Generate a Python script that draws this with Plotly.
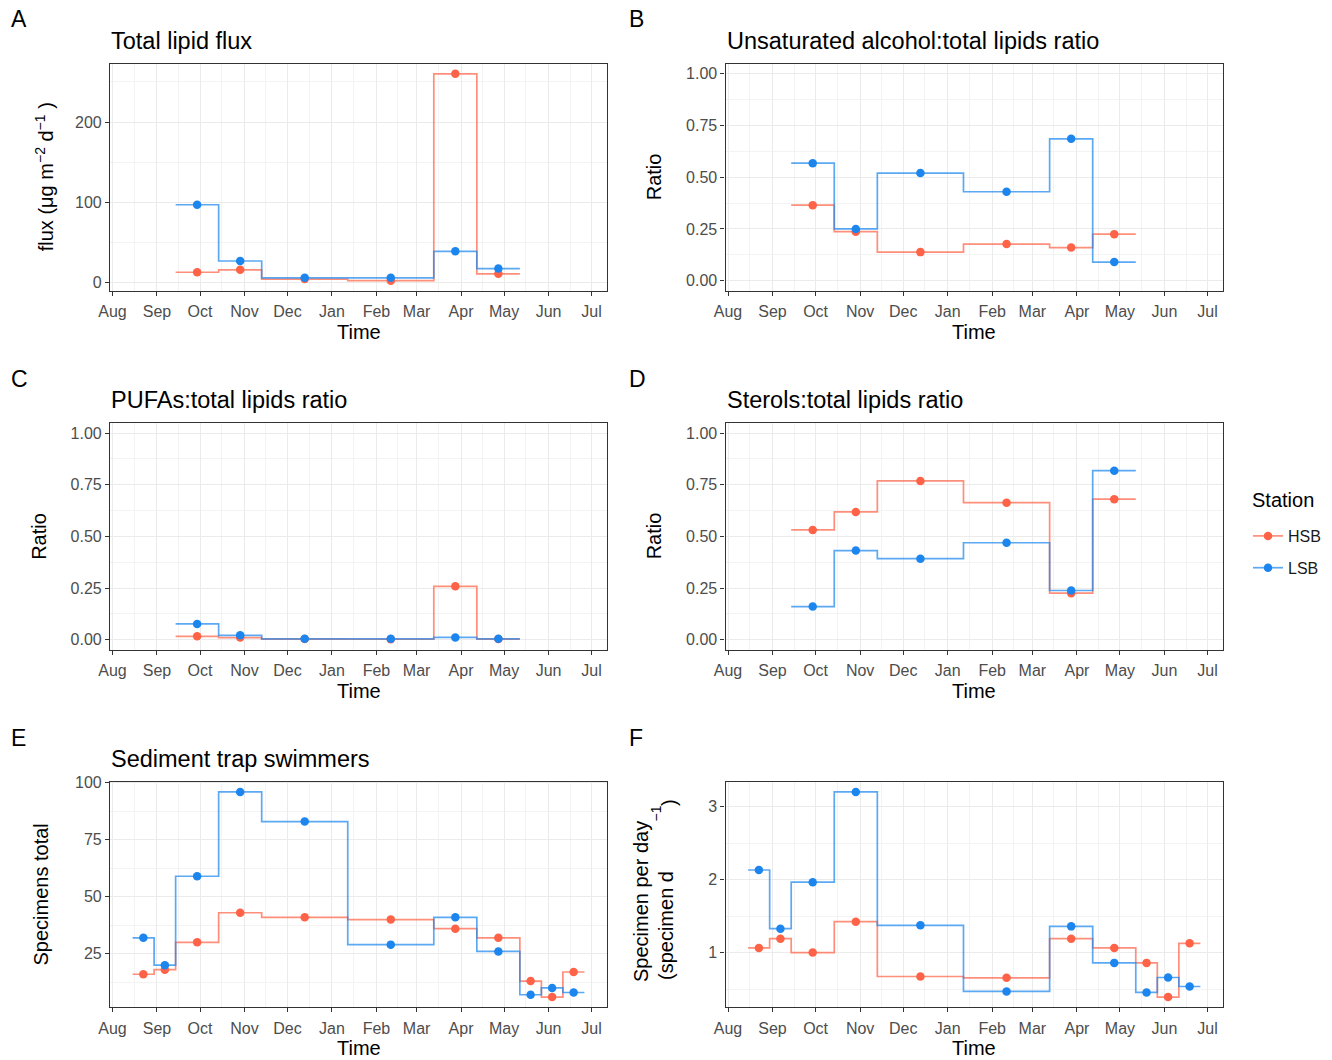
import pandas as pd
import plotly.graph_objects as go

# ---------------- data ----------------
stations = ["HSB", "LSB"]
station_colors = {"HSB": "#FF6347", "LSB": "#1C86EE"}
station_line_colors = {"HSB": "rgba(255,99,71,0.72)", "LSB": "rgba(28,134,238,0.72)"}

# sampling intervals of the lipid traps (panels A-D)
lipid_start = ["2018-09-14", "2018-10-14", "2018-11-13", "2019-01-12", "2019-03-13", "2019-04-12"]
lipid_end = ["2018-10-14", "2018-11-13", "2019-01-12", "2019-03-13", "2019-04-12", "2019-05-12"]

# sampling intervals of the swimmer counts (panels E-F)
swim_start = ["2018-08-15", "2018-08-30", "2018-09-14", "2018-10-14", "2018-11-13", "2019-01-12",
              "2019-03-13", "2019-04-12", "2019-05-12", "2019-05-27", "2019-06-11"]
swim_end = ["2018-08-30", "2018-09-14", "2018-10-14", "2018-11-13", "2019-01-12", "2019-03-13",
            "2019-04-12", "2019-05-12", "2019-05-27", "2019-06-11", "2019-06-26"]

flux_HSB = [13, 16, 4.5, 2.5, 260, 11]
flux_LSB = [97, 27, 6, 6, 39, 17.5]

unsat_HSB = [0.365, 0.237, 0.138, 0.177, 0.160, 0.225]
unsat_LSB = [0.568, 0.250, 0.520, 0.430, 0.686, 0.090]

pufa_HSB = [0.016, 0.010, 0.003, 0.002, 0.258, 0.003]
pufa_LSB = [0.076, 0.021, 0.004, 0.004, 0.011, 0.004]

sterol_HSB = [0.531, 0.618, 0.768, 0.663, 0.225, 0.680]
sterol_LSB = [0.160, 0.431, 0.392, 0.469, 0.238, 0.818]

swim_total_HSB = [16, 18, 30, 43, 41, 40, 36, 32, 13, 6, 17]
swim_total_LSB = [32, 20, 59, 96, 83, 29, 41, 26, 7, 10, 8]

swim_day_HSB = [1.064, 1.191, 1.000, 1.424, 0.672, 0.654, 1.191, 1.064, 0.859, 0.390, 1.128]
swim_day_LSB = [2.134, 1.328, 1.966, 3.205, 1.374, 0.467, 1.360, 0.859, 0.453, 0.658, 0.535]

panel_letters = ["A", "B", "C", "D", "E", "F"]
panel_titles = ["Total lipid flux", "Unsaturated alcohol:total lipids ratio",
                "PUFAs:total lipids ratio", "Sterols:total lipids ratio",
                "Sediment trap swimmers", ""]

# ---------------- layout helpers ----------------
W, H = 1332, 1060
FONT = "Liberation Sans, Arial, sans-serif"

def px_x(v):
    return v / W

def px_y(v):
    return 1 - v / H

col_px = [(110, 607), (725.5, 1223)]
row_px = [(63.5, 291), (422.7, 650), (781.7, 1007.3)]

panels = [
    dict(start=lipid_start, end=lipid_end, HSB=flux_HSB, LSB=flux_LSB),
    dict(start=lipid_start, end=lipid_end, HSB=unsat_HSB, LSB=unsat_LSB),
    dict(start=lipid_start, end=lipid_end, HSB=pufa_HSB, LSB=pufa_LSB),
    dict(start=lipid_start, end=lipid_end, HSB=sterol_HSB, LSB=sterol_LSB),
    dict(start=swim_start, end=swim_end, HSB=swim_total_HSB, LSB=swim_total_LSB),
    dict(start=swim_start, end=swim_end, HSB=swim_day_HSB, LSB=swim_day_LSB),
]

# shared x limits: data range of all sampling dates, expanded by 5 %
all_dates = pd.to_datetime(swim_start + swim_end + lipid_start + lipid_end)
dmin, dmax = all_dates.min(), all_dates.max()
pad = (dmax - dmin) * 0.05
x_range = [(dmin - pad).strftime("%Y-%m-%d %H:%M"), (dmax + pad).strftime("%Y-%m-%d %H:%M")]

def expand(lo, hi, f=0.05):
    r = hi - lo
    return [lo - f * r, hi + f * r]

fig = go.Figure()

for i, p in enumerate(panels):
    n = i + 1
    xa = "x" if n == 1 else f"x{n}"
    ya = "y" if n == 1 else f"y{n}"
    s = pd.to_datetime(p["start"])
    e = pd.to_datetime(p["end"])
    mid = s + (e - s) / 2
    for st in stations:
        vals = p[st]
        fig.add_trace(go.Scatter(
            x=list(s) + [e[-1]], y=list(vals) + [vals[-1]],
            mode="lines", line=dict(shape="hv", color=station_line_colors[st], width=1.7),
            xaxis=xa, yaxis=ya, showlegend=False, hoverinfo="skip", legendgroup=st))
        fig.add_trace(go.Scatter(
            x=list(mid), y=vals, mode="markers",
            marker=dict(color=station_colors[st], size=8.5),
            xaxis=xa, yaxis=ya, showlegend=False, legendgroup=st, name=st))

# legend-only entries
for st in stations:
    fig.add_trace(go.Scatter(
        x=[None], y=[None], mode="lines+markers", name=st, legendgroup=st,
        line=dict(color=station_line_colors[st], width=1.7),
        marker=dict(color=station_colors[st], size=8.5), showlegend=True))

layout = dict(
    width=W, height=H, margin=dict(l=0, r=0, t=0, b=0, autoexpand=False),
    paper_bgcolor="white", plot_bgcolor="white",
    font=dict(family=FONT, color="#000000"),
    showlegend=True,
    legend=dict(x=px_x(1248), y=px_y(519), xanchor="left", yanchor="top",
                font=dict(size=16, color="#1A1A1A"), itemwidth=30,
                tracegroupgap=8, bgcolor="rgba(0,0,0,0)"),
)

y_ranges = [
    expand(min(flux_HSB + flux_LSB), max(flux_HSB + flux_LSB)),
    expand(0, 1), expand(0, 1), expand(0, 1),
    expand(min(swim_total_HSB + swim_total_LSB), max(swim_total_HSB + swim_total_LSB)),
    expand(min(swim_day_HSB + swim_day_LSB), max(swim_day_HSB + swim_day_LSB)),
]
y_dtick = [100, 0.25, 0.25, 0.25, 25, 1]
y_fmt = ["d", ".2f", ".2f", ".2f", "d", "d"]

axis_common = dict(showline=True, mirror=True, linecolor="#333333", linewidth=1.2,
                   ticks="outside", ticklen=4, tickwidth=1, tickcolor="#333333",
                   gridcolor="#EBEBEB", gridwidth=1.1, zeroline=False,
                   tickfont=dict(size=16, color="#4D4D4D", family=FONT))

annotations = []
for i in range(6):
    n = i + 1
    c = i % 2
    r = i // 2
    x0, x1 = col_px[c]
    y0, y1 = row_px[r]
    xk = "xaxis" if n == 1 else f"xaxis{n}"
    yk = "yaxis" if n == 1 else f"yaxis{n}"
    layout[xk] = dict(axis_common, domain=[px_x(x0), px_x(x1)], anchor="y" if n == 1 else f"y{n}",
                      type="date", range=x_range, dtick="M1", tick0="2018-08-01",
                      tickformat="%b", ticklabelstandoff=2,
                      minor=dict(dtick="M1", tick0="2018-07-16", showgrid=True,
                                 gridcolor="#F3F3F3", gridwidth=0.7, ticks=""))
    layout[yk] = dict(axis_common, domain=[px_y(y1), px_y(y0)], anchor="x" if n == 1 else f"x{n}",
                      range=y_ranges[i], dtick=y_dtick[i], tick0=0, tickformat=y_fmt[i],
                      minor=dict(dtick=y_dtick[i] / 2, tick0=0, showgrid=True,
                                 gridcolor="#F3F3F3", gridwidth=0.7, ticks=""))
    # panel letter
    annotations.append(dict(text=panel_letters[i], x=px_x(x0 - 101 if c == 0 else x0 - 99),
                            y=px_y(y0 - 44), xref="paper", yref="paper",
                            xanchor="left", yanchor="middle", showarrow=False,
                            font=dict(size=23, color="#000000", family=FONT)))
    # title
    if panel_titles[i]:
        annotations.append(dict(text=panel_titles[i], x=px_x(x0 - 1), y=px_y(y0 - 22.5),
                                xref="paper", yref="paper", xanchor="left", yanchor="middle",
                                showarrow=False, font=dict(size=23.5, color="#000000", family=FONT)))
    # x title
    annotations.append(dict(text="Time", x=px_x((x0 + x1) / 2), y=px_y(y1 + 41),
                            xref="paper", yref="paper", xanchor="center", yanchor="middle",
                            showarrow=False, font=dict(size=20, color="#000000", family=FONT)))

# legend title
annotations.append(dict(text="Station", x=px_x(1250), y=px_y(500), xref="paper", yref="paper",
                        xanchor="left", yanchor="middle", showarrow=False,
                        font=dict(size=20, color="#000000", family=FONT)))

ymid = [(a + b) / 2 for a, b in row_px]
yt_font = dict(size=20, color="#000000", family=FONT)
ylabels = [
    dict(text="flux (μg m<sup>−2</sup> d<sup>−1</sup> )", x=px_x(44), y=px_y(ymid[0])),
    dict(text="Ratio", x=px_x(654), y=px_y(ymid[0])),
    dict(text="Ratio", x=px_x(39.5), y=px_y(ymid[1])),
    dict(text="Ratio", x=px_x(654), y=px_y(ymid[1])),
    dict(text="Specimens total", x=px_x(40), y=px_y(ymid[2])),
    dict(text="Specimen per day", x=px_x(641), y=px_y(902)),
    dict(text="(specimen d", x=px_x(666), y=px_y(926)),
    dict(text="−1", x=px_x(655.5), y=px_y(814), font=dict(size=14, color="#000000", family=FONT)),
    dict(text=")", x=px_x(669), y=px_y(803)),
]
for a in ylabels:
    a.setdefault("font", yt_font)
    a.update(xref="paper", yref="paper", showarrow=False, textangle=-90,
             xanchor="center", yanchor="middle")
annotations += ylabels

layout["annotations"] = annotations
fig.update_layout(layout)
fig.write_html("out.html", config={"displayModeBar": False},
               post_script="document.body.style.margin='0px';document.body.style.overflow='hidden';")
